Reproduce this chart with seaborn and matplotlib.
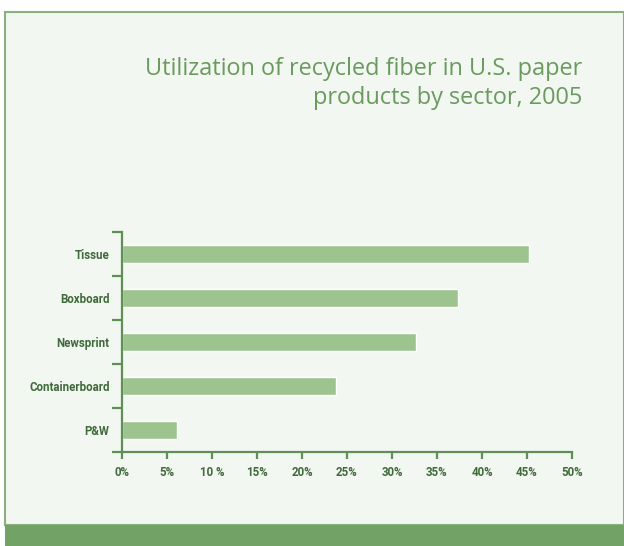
import matplotlib
matplotlib.use("Agg")
import matplotlib.pyplot as plt
import seaborn as sns
import pandas as pd
from matplotlib.patches import Rectangle
from matplotlib.ticker import FixedLocator

categories = ["Tissue", "Boxboard", "Newsprint", "Containerboard", "P&W"]
values = [45.2, 37.3, 32.7, 23.8, 6.1]
xtick_values = [0, 5, 10, 15, 20, 25, 30, 35, 40, 45, 50]
xtick_labels = ["0%", "5%", "10 %", "15%", "20%", "25%", "30%", "35%", "40%", "45%", "50%"]
title = "Utilization of recycled fiber in U.S. paper\nproducts by sector, 2005"

df = pd.DataFrame({"sector": categories, "pct": values})

sns.set_theme(style="white")
plt.rcParams["font.family"] = ["Open Sans", "DejaVu Sans"]

W, H = 624, 546
fig = plt.figure(figsize=(W / 100, H / 100), dpi=100)
fig.patch.set_facecolor("white")

# panel frame
fig.patches.append(Rectangle((5 / W, (H - 525) / H), 1 - 5 / W, (525 - 12) / H,
                             transform=fig.transFigure, facecolor="#f3f7f1",
                             edgecolor="#8ab07e", linewidth=1.5, zorder=0))
# bottom band
fig.patches.append(Rectangle((5 / W, 0), 1 - 5 / W, (H - 525) / H,
                             transform=fig.transFigure, facecolor="#72a266",
                             edgecolor="none", zorder=1))

ax = fig.add_axes([122 / W, (H - 452) / H, 450 / W, 220 / H])
ax.set_zorder(5)
ax.set_facecolor("none")

sns.barplot(data=df, x="pct", y="sector", orient="h", color="#9dc48f",
            width=0.41, saturation=1, ax=ax, zorder=2)

ax.set_xlim(0, 50)
ax.set_ylim(4.5, -0.5)
ax.set_xlabel("")
ax.set_ylabel("")

axis_color = "#5f8f55"
label_color = "#3f6a3a"
for s in ["top", "right"]:
    ax.spines[s].set_visible(False)
for s in ["left", "bottom"]:
    ax.spines[s].set_color(axis_color)
    ax.spines[s].set_linewidth(1.6)

ax.set_xticks(xtick_values)
ax.set_xticklabels(xtick_labels)
ax.tick_params(axis="x", direction="out", length=5, width=1.6, color=axis_color,
               pad=5, labelsize=8.3, labelcolor=label_color, bottom=True)
ax.yaxis.set_minor_locator(FixedLocator([-0.5, 0.5, 1.5, 2.5, 3.5, 4.5]))
ax.tick_params(axis="y", which="major", length=0, pad=9, labelsize=8.3,
               labelcolor=label_color, left=True)
ax.tick_params(axis="y", which="minor", direction="out", length=7, width=1.6,
               color=axis_color, left=True)
for t in ax.get_yticklabels() + ax.get_xticklabels():
    t.set_fontfamily(["Roboto", "Open Sans", "DejaVu Sans"])
    t.set_fontweight("bold")

fig.text(582 / W, (H - 57) / H, title, ha="right", va="top", color="#6a9a5f",
         fontsize=16.9, linespacing=1.3)

fig.savefig("out.png", dpi=100)
